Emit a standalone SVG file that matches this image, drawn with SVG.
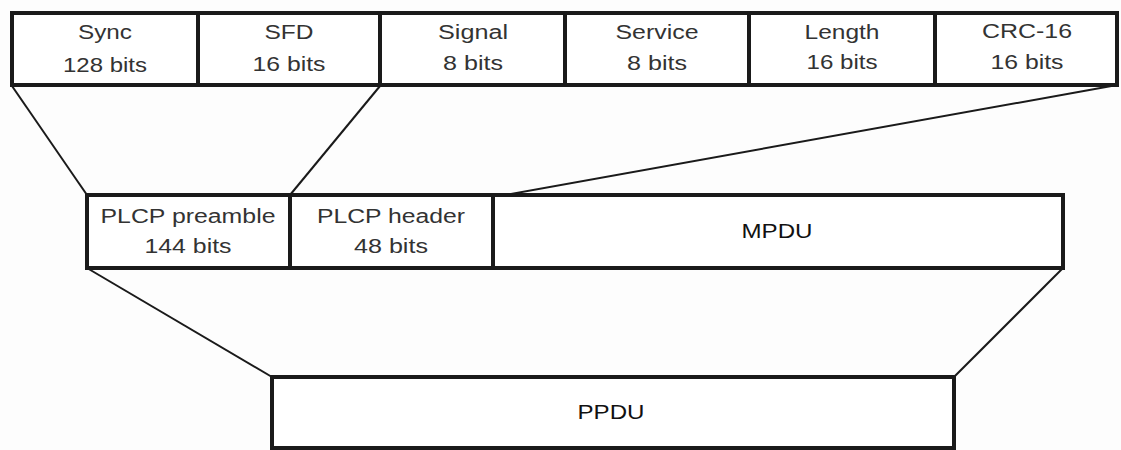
<svg xmlns="http://www.w3.org/2000/svg" width="1121" height="450" viewBox="0 0 1121 450">
  <style>
    .cell { fill: #ffffff; stroke: #1a1a1a; stroke-width: 4; }
    .conn { fill: none; stroke: #1a1a1a; stroke-width: 2; }
    .t { font-family: "Liberation Sans", Arial, sans-serif; font-size: 20px; fill: #333333; text-anchor: middle; }
    .tb { font-family: "Liberation Sans", Arial, sans-serif; font-size: 20px; fill: #111111; text-anchor: middle; }
  </style>
  <rect x="0" y="0" width="1121" height="450" fill="#fdfdfd"/>

  <g id="connectors">
    <line class="conn" x1="12" y1="86" x2="87" y2="195"/>
    <line class="conn" x1="380" y1="86" x2="290" y2="195"/>
    <line class="conn" x1="1117" y1="85" x2="505" y2="195"/>
    <line class="conn" x1="87" y1="268" x2="272" y2="377"/>
    <line class="conn" x1="1063" y1="268" x2="954" y2="377"/>
  </g>

  <g id="sync">
    <rect class="cell" x="12" y="13" width="186" height="72"/>
    <text class="t" x="105" y="39" textLength="54" lengthAdjust="spacingAndGlyphs">Sync</text>
    <text class="t" x="105" y="72" textLength="84" lengthAdjust="spacingAndGlyphs">128 bits</text>
  </g>
  <g id="sfd">
    <rect class="cell" x="198" y="13" width="182" height="72"/>
    <text class="t" x="289" y="39" textLength="49" lengthAdjust="spacingAndGlyphs">SFD</text>
    <text class="t" x="289" y="71" textLength="73" lengthAdjust="spacingAndGlyphs">16 bits</text>
  </g>
  <g id="signal">
    <rect class="cell" x="380" y="13" width="185" height="72"/>
    <text class="t" x="473" y="39" textLength="70" lengthAdjust="spacingAndGlyphs">Signal</text>
    <text class="t" x="473" y="70" textLength="60" lengthAdjust="spacingAndGlyphs">8 bits</text>
  </g>
  <g id="service">
    <rect class="cell" x="565" y="13" width="184" height="72"/>
    <text class="t" x="657" y="39" textLength="83" lengthAdjust="spacingAndGlyphs">Service</text>
    <text class="t" x="657" y="70" textLength="60" lengthAdjust="spacingAndGlyphs">8 bits</text>
  </g>
  <g id="length">
    <rect class="cell" x="749" y="13" width="186" height="72"/>
    <text class="t" x="842" y="39" textLength="75" lengthAdjust="spacingAndGlyphs">Length</text>
    <text class="t" x="842" y="69" textLength="71" lengthAdjust="spacingAndGlyphs">16 bits</text>
  </g>
  <g id="crc16">
    <rect class="cell" x="935" y="13" width="182" height="72"/>
    <text class="t" x="1027" y="38" textLength="90" lengthAdjust="spacingAndGlyphs">CRC-16</text>
    <text class="t" x="1027" y="69" textLength="73" lengthAdjust="spacingAndGlyphs">16 bits</text>
  </g>

  <g id="plcp-preamble">
    <rect class="cell" x="87" y="195" width="203" height="73"/>
    <text class="t" x="188" y="223" textLength="175" lengthAdjust="spacingAndGlyphs">PLCP preamble</text>
    <text class="t" x="188" y="253" textLength="87" lengthAdjust="spacingAndGlyphs">144 bits</text>
  </g>
  <g id="plcp-header">
    <rect class="cell" x="290" y="195" width="203" height="73"/>
    <text class="t" x="391" y="223" textLength="148" lengthAdjust="spacingAndGlyphs">PLCP header</text>
    <text class="t" x="391" y="253" textLength="74" lengthAdjust="spacingAndGlyphs">48 bits</text>
  </g>
  <g id="mpdu">
    <rect class="cell" x="493" y="195" width="570" height="73"/>
    <text class="tb" x="777" y="238" textLength="71" lengthAdjust="spacingAndGlyphs">MPDU</text>
  </g>

  <g id="ppdu">
    <rect class="cell" x="272" y="377" width="682" height="71"/>
    <text class="tb" x="611" y="419" textLength="67" lengthAdjust="spacingAndGlyphs">PPDU</text>
  </g>
</svg>
